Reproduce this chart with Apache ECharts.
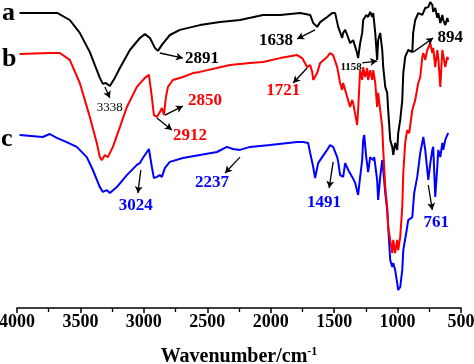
<!DOCTYPE html>
<html><head><meta charset="utf-8">
<script src="https://cdn.jsdelivr.net/npm/echarts/dist/echarts.min.js"></script>
<style>html,body{margin:0;padding:0;background:#fff}#c{width:474px;height:364px}</style>
</head><body><div id="c"></div>
<script>
// x: wavenumber (cm-1), y: relative transmittance (arbitrary units, curves offset)
const curveA = [[3980,98.3],[3680,98.3],[3584,96],[3505,91.7],[3426,85.3],[3347,76.7],[3323,74.7],[3300,75],[3268,74],[3229,76.7],[3189,80],[3110,86],[3031,90],[2992,91.3],[2952,90],[2913,86.7],[2889,85.7],[2858,87.7],[2795,91],[2716,92.7],[2558,94.3],[2400,95.3],[2242,96],[2060,97.7],[1926,97.7],[1768,98.3],[1689,97.7],[1665,95],[1634,93.7],[1610,95.3],[1555,97],[1516,98.3],[1492,98.3],[1468,93.7],[1437,90],[1429,91.7],[1413,92.7],[1397,91],[1374,88.3],[1350,89.3],[1319,85],[1311,83.3],[1295,88.3],[1279,91.7],[1271,96],[1247,97.7],[1232,97],[1216,98.7],[1200,97],[1192,98.3],[1176,91.7],[1161,82.7],[1153,89.3],[1137,91.7],[1121,86],[1113,80.3],[1097,73.7],[1082,71.7],[1074,66],[1058,56],[1042,53.7],[1034,51],[1019,55],[1003,52.7],[995,58.3],[979,62.7],[963,69.3],[955,78.3],[940,83.7],[916,86],[884,85.3],[877,91.7],[861,96],[837,98.3],[805,97.7],[782,100],[758,100.3],[742,102],[726,101],[719,98.7],[703,100],[687,96.7],[679,98.3],[663,95],[647,97.7],[640,96],[624,94.3],[608,96.7],[600,95.3]];
const curveB = [[3980,84.7],[3742,85],[3663,85],[3584,82.7],[3505,75],[3426,63.7],[3371,55],[3347,50.3],[3331,49.3],[3307,51],[3284,50.3],[3244,53.7],[3189,60.3],[3134,67],[3055,73.7],[2992,76.7],[2960,77.7],[2937,70.3],[2921,64.3],[2897,63.7],[2874,65.3],[2858,66.7],[2842,64.3],[2826,70.3],[2810,73.7],[2771,76],[2692,77],[2613,78.3],[2558,78.7],[2321,81],[2163,81.7],[2060,82],[1926,83.3],[1792,84.3],[1752,83.3],[1713,80.3],[1689,81],[1673,78.7],[1665,76],[1634,78.3],[1610,81.7],[1555,83.7],[1532,85],[1508,84.3],[1476,80.3],[1453,75],[1437,72.7],[1429,75],[1413,72.7],[1397,70.3],[1374,67],[1358,69.3],[1350,68.3],[1326,62.7],[1319,61],[1311,66],[1295,79.3],[1279,76],[1271,80.3],[1255,77],[1240,80],[1232,76],[1216,79.3],[1200,76],[1192,79.3],[1176,75],[1161,67],[1153,71.7],[1137,66],[1121,60.3],[1113,52.7],[1097,40.3],[1082,33.7],[1074,27],[1058,22.7],[1042,18.3],[1034,22.7],[1019,18.3],[1003,22.7],[995,19.3],[979,23.7],[963,33.7],[955,45],[940,55],[924,59.3],[908,58.3],[884,66],[861,69.3],[837,75],[821,77],[805,83.7],[797,85],[782,82.7],[766,86],[742,88.3],[726,85],[719,86.7],[703,80.3],[687,86],[679,83.3],[663,73.7],[647,86],[640,84.3],[624,80.3],[608,83.7],[600,82.7]];
const curveC = [[3980,57.7],[3797,57],[3742,58],[3687,56.7],[3608,55.3],[3529,53.7],[3450,50.3],[3402,46],[3347,40.3],[3323,38.7],[3292,39.3],[3268,38.3],[3213,40.3],[3134,44.3],[3055,47.7],[3031,48.3],[3008,50],[2976,52],[2960,53],[2937,47],[2921,43.3],[2897,43.7],[2874,44.3],[2858,43.7],[2834,46.7],[2795,48.7],[2692,50],[2558,51],[2424,52],[2345,53.7],[2298,53],[2242,52.7],[2163,53.7],[2005,54.3],[1792,55.3],[1744,55.3],[1705,55],[1689,51.7],[1665,47],[1650,43.3],[1626,48.3],[1595,50.3],[1555,52.7],[1532,54.3],[1508,53.7],[1476,50.3],[1468,48.7],[1453,44.3],[1429,43.7],[1413,48.3],[1389,46],[1358,43.7],[1334,41.7],[1311,37.7],[1295,43.7],[1279,49.3],[1271,56],[1263,57.7],[1247,50.3],[1232,45.3],[1216,50.3],[1192,49.3],[1184,50.3],[1161,42.7],[1153,36],[1137,43.7],[1121,49.3],[1113,46],[1097,38.3],[1082,32.7],[1074,27],[1058,16],[1042,13.7],[1034,15],[1019,12.7],[1003,8.3],[995,6],[979,7],[963,12.7],[955,19.3],[932,25],[916,29.3],[884,30.3],[869,38.3],[845,43.7],[821,51.7],[797,57],[782,52.7],[766,46],[758,42.7],[742,48.3],[726,52.7],[719,53.7],[703,37],[687,47],[679,52.7],[663,50.3],[647,55],[640,52.7],[624,56],[608,57.7],[600,58.3]];

const seriesNames = ['a','b','c'];
const seriesColors = ['#000000','#ff0000','#0000ff'];
const xTickValues = [4000,3500,3000,2500,2000,1500,1000,500];

// peak annotations: label, label anchor [wn, T], arrow from, arrow to
const annotA = [
  {t:'3338', at:[3268,66.7], from:[3307,73.7], to:[3268,70], size:13, w:'normal'},
  {t:'2891', at:[2542,83], from:[2874,85], to:[2692,83.3], size:17, w:'bold'},
  {t:'1638', at:[1958,89], from:[1650,92.7], to:[1792,89.7], size:17, w:'bold'},
  {t:'1158', at:[1366,80.3], from:[1279,81.7], to:[1161,82.3], size:11, w:'bold'},
  {t:'894', at:[584,90], from:[877,85.3], to:[719,90], size:17, w:'bold'}
];
const annotB = [
  {t:'2850', at:[2519,69], from:[2834,64.3], to:[2692,67.3], size:17, w:'bold'},
  {t:'2912', at:[2637,57.3], from:[2897,63.3], to:[2779,59.3], size:17, w:'bold'},
  {t:'1721', at:[1902,72.3], from:[1713,80], to:[1823,75], size:17, w:'bold'}
];
const annotC = [
  {t:'3024', at:[3063,34], from:[3024,46], to:[3047,38.3], size:17, w:'bold'},
  {t:'2237', at:[2463,41.7], from:[2242,50.3], to:[2360,45], size:17, w:'bold'},
  {t:'1491', at:[1579,35], from:[1508,48.7], to:[1539,40], size:17, w:'bold'},
  {t:'761', at:[695,28.3], from:[758,41], to:[726,32.7], size:17, w:'bold'}
];

const SERIF = "'Liberation Serif','Times New Roman',serif";
const curves = [curveA, curveB, curveC];
const annots = [annotA, annotB, annotC];

const chart = echarts.init(document.getElementById('c'), null, {renderer:'canvas'});
const series = curves.map((d, i) => ({
  name: seriesNames[i],
  type: 'line',
  data: d,
  showSymbol: false,
  symbol: 'none',
  clip: false,
  lineStyle: {color: seriesColors[i], width: 2},
  itemStyle: {color: seriesColors[i]},
  z: 3 - i,
  markLine: {
    silent: true,
    symbol: ['none','arrow'],
    symbolSize: [6, 7],
    label: {show: false},
    lineStyle: {color:'#000', width: 1.3, type:'solid'},
    data: annots[i].map(a => [{coord:a.from}, {coord:a.to}])
  },
  markPoint: {
    silent: true,
    symbol: 'circle',
    symbolSize: 0,
    data: annots[i].map(a => ({
      coord: a.at,
      label: {show:true, position:'inside', formatter:a.t, color: seriesColors[i],
        fontSize:a.size, fontWeight:a.w, fontFamily:SERIF}
    }))
  }
}));

chart.setOption({
  animation: false,
  backgroundColor: '#fff',
  grid: {left: 17, right: 13, top: 2, bottom: 56, containLabel: false, outerBoundsMode: 'none'},
  xAxis: {
    type: 'value', min: 500, max: 4000, interval: 500, inverse: true,
    name: '{a|Wavenumber/cm}{b|-1}', nameLocation: 'middle', nameGap: 38,
    nameTextStyle: {
      rich: {
        a: {fontFamily: SERIF, fontWeight:'bold', fontSize: 20, color:'#000', lineHeight: 22},
        b: {fontFamily: SERIF, fontWeight:'bold', fontSize: 12, color:'#000', verticalAlign:'top', lineHeight: 22}
      }
    },
    axisLine: {show: true, onZero: false, lineStyle: {color:'#000', width: 1.5}},
    axisTick: {show: true, inside: false, length: 5, lineStyle: {color:'#000', width: 1.5}},
    minorTick: {show: true, splitNumber: 2, length: 4, lineStyle: {color:'#000', width: 1.3}},
    splitLine: {show: false},
    axisLabel: {color:'#000', fontFamily: SERIF, fontWeight:'bold', fontSize: 18, margin: 5,
      showMinLabel: true, showMaxLabel: true,
      formatter: v => xTickValues.indexOf(v) >= 0 ? String(v) : ''}
  },
  yAxis: {type:'value', min: 0, max: 102, show: false},
  graphic: [
    {type:'text', left: 2, top: 0, style:{text: seriesNames[0], font: 'bold 26px ' + SERIF, fill:'#000'}},
    {type:'text', left: 2, top: 46, style:{text: seriesNames[1], font: 'bold 26px ' + SERIF, fill:'#000'}},
    {type:'text', left: 1, top: 126, style:{text: seriesNames[2], font: 'bold 26px ' + SERIF, fill:'#000'}}
  ],
  series: series
});
</script>
</body></html>
